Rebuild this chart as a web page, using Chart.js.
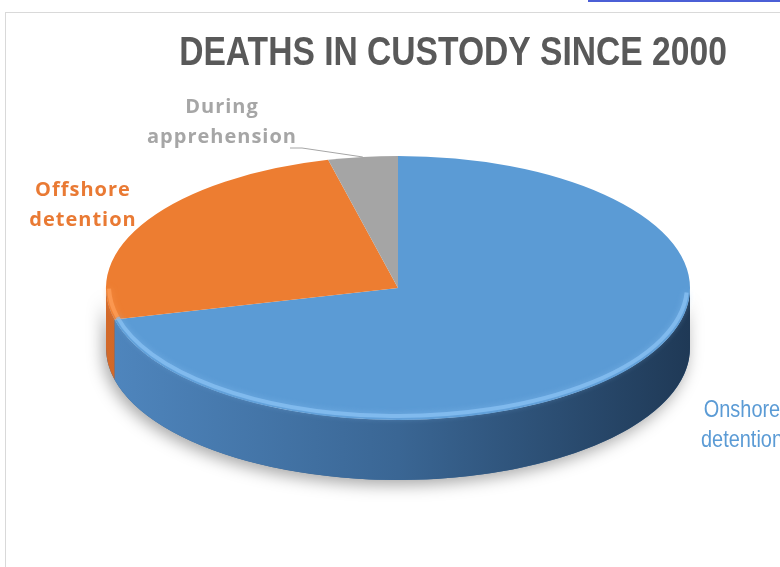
<!DOCTYPE html>
<html>
<head>
<meta charset="utf-8">
<script src="https://cdn.jsdelivr.net/npm/chart.js"></script>
<style>
    html, body { margin: 0; padding: 0; background: #fff; }
    #wrap { position: relative; width: 780px; height: 567px; overflow: hidden; }
    #marco { position: absolute; left: 5px; top: 12px; width: 820px; height: 620px; border-left: 1px solid #d9d9d9; border-top: 1px solid #d9d9d9; }
    #enlace { position: absolute; left: 588px; top: 0; width: 192px; height: 2px; background: #4b5fd6; }
    canvas { position: absolute; left: 0; top: 0; }
</style>
</head>
<body>
<div id="wrap">
    <div id="marco"></div>
    <div id="enlace"></div>
    <canvas id="myChart" width="780" height="567"></canvas>
</div>
<script>
// datos del grafico
const titulo = "DEATHS IN CUSTODY SINCE 2000";
const categorias = ["Onshore detention", "Offshore detention", "During apprehension"];
const muertes = [37, 13, 2];
const colores = ["#5B9BD5", "#ED7D31", "#A5A5A5"];
const coloresLado = [["#4F86BE", "#3A6694", "#1F3956"], ["#D2692A", "#B4561D", "#8A4214"], ["#8E8E8E", "#767676", "#5A5A5A"]];
const coloresBrillo = ["rgba(140,195,245,0.7)", "rgba(255,160,90,0.7)", "rgba(210,210,210,0.7)"];
const coloresTexto = ["#5B9BD5", "#E97A34", "#A6A6A6"];

const PLANO = 0.452;   // alto/ancho de la elipse
const GROSOR = 60;     // alto del lado

// desplazamiento de cada etiqueta respecto al centro
const posEtiquetas = [[344, 122], [-315, -98], [-176, -181]];

const pie3d = {
    id: "pie3d",
    beforeDatasetsDraw(chart) {
        const ctx = chart.ctx;
        const arcs = chart.getDatasetMeta(0).data;
        if (!arcs.length) return;
        const cx = arcs[0].x, cy = arcs[0].y, r = arcs[0].outerRadius;
        const ry = r * PLANO;

        // sombra
        ctx.save();
        ctx.shadowColor = "rgba(0,0,0,0.35)";
        ctx.shadowBlur = 16;
        ctx.shadowOffsetY = 5;
        ctx.shadowOffsetX = -3;
        ctx.beginPath();
        ctx.ellipse(cx, cy, r, ry, 0, 0, Math.PI);
        ctx.ellipse(cx, cy + GROSOR, r, ry, 0, Math.PI, 0, true);
        ctx.closePath();
        ctx.fillStyle = "#3A6694";
        ctx.fill();
        ctx.restore();

        // lados
        arcs.forEach((arc, i) => {
            const s = Math.max(arc.startAngle, 0);
            const e = Math.min(arc.endAngle, Math.PI);
            if (s >= e) return;
            const grad = ctx.createLinearGradient(cx - r, 0, cx + r, 0);
            grad.addColorStop(0, coloresLado[i][0]);
            grad.addColorStop(0.5, coloresLado[i][1]);
            grad.addColorStop(1, coloresLado[i][2]);
            ctx.beginPath();
            ctx.ellipse(cx, cy, r, ry, 0, s, e);
            ctx.ellipse(cx, cy + GROSOR, r, ry, 0, e, s, true);
            ctx.closePath();
            ctx.fillStyle = grad;
            ctx.fill();
        });

        // cara superior con los arcos de la libreria
        ctx.save();
        ctx.translate(cx, cy);
        ctx.scale(1, PLANO);
        ctx.translate(-cx, -cy);
        arcs.forEach(arc => arc.draw(ctx));
        ctx.restore();

        // brillo del borde
        arcs.forEach((arc, i) => {
            const s = Math.max(arc.startAngle, 0.05);
            const e = Math.min(arc.endAngle, Math.PI - 0.02);
            if (s >= e) return;
            ctx.save();
            ctx.beginPath();
            ctx.ellipse(cx, cy - 2, r - 3, ry - 2, 0, s, e);
            ctx.strokeStyle = coloresBrillo[i];
            ctx.lineWidth = 4;
            ctx.shadowColor = coloresBrillo[i];
            ctx.shadowBlur = 6;
            ctx.stroke();
            ctx.restore();
        });
        return false;
    },
    afterDraw(chart) {
        const ctx = chart.ctx;
        const arcs = chart.getDatasetMeta(0).data;
        if (!arcs.length) return;
        const cx = arcs[0].x, cy = arcs[0].y, r = arcs[0].outerRadius;
        const ry = r * PLANO;
        ctx.save();
        ctx.textAlign = "center";
        ctx.textBaseline = "middle";

        // titulo (angosto, como Calibri)
        ctx.save();
        ctx.translate(453, 54);
        ctx.scale(0.84, 1);
        ctx.font = "bold 40px 'Liberation Sans', sans-serif";
        ctx.fillStyle = "#595959";
        ctx.fillText(titulo, 0, 0);
        ctx.restore();

        categorias.forEach((cat, i) => {
            const lineas = cat.split(" ");
            const x = cx + posEtiquetas[i][0];
            const y = cy + posEtiquetas[i][1];
            ctx.save();
            ctx.translate(x, y);
            if (i === 0) {
                ctx.scale(0.83, 1);
                ctx.font = "24px 'Liberation Sans', sans-serif";
                ctx.letterSpacing = "0px";
            } else {
                ctx.font = "bold 20px 'Open Sans', sans-serif";
                ctx.letterSpacing = "1px";
            }
            ctx.fillStyle = coloresTexto[i];
            lineas.forEach((l, j) => ctx.fillText(l, 0, j * 30));
            ctx.restore();
        });
        // linea guia de "During apprehension"
        const g = arcs[2];
        const mid = (g.startAngle + g.endAngle) / 2;
        const px = cx + Math.cos(mid) * r;
        const py = cy + Math.sin(mid) * ry;
        ctx.beginPath();
        ctx.moveTo(cx + posEtiquetas[2][0] + 68, cy + posEtiquetas[2][1] + 41);
        ctx.lineTo(cx + posEtiquetas[2][0] + 80, cy + posEtiquetas[2][1] + 41);
        ctx.lineTo(px, py);
        ctx.strokeStyle = "#A6A6A6";
        ctx.lineWidth = 1;
        ctx.stroke();
        ctx.restore();
    }
};

const config = {
    type: "pie",
    data: {
        labels: categorias,
        datasets: [{
            data: muertes,
            backgroundColor: colores,
            borderWidth: 0,
            radius: 292
        }]
    },
    options: {
        responsive: false,
        animation: false,
        layout: { padding: { left: 16, right: 0, top: 88, bottom: 79 } },
        plugins: {
            legend: { display: false },
            tooltip: { enabled: false },
            title: { display: false }
        }
    },
    plugins: [pie3d]
};

const myChart = new Chart(document.getElementById("myChart"), config);
</script>
</body>
</html>
